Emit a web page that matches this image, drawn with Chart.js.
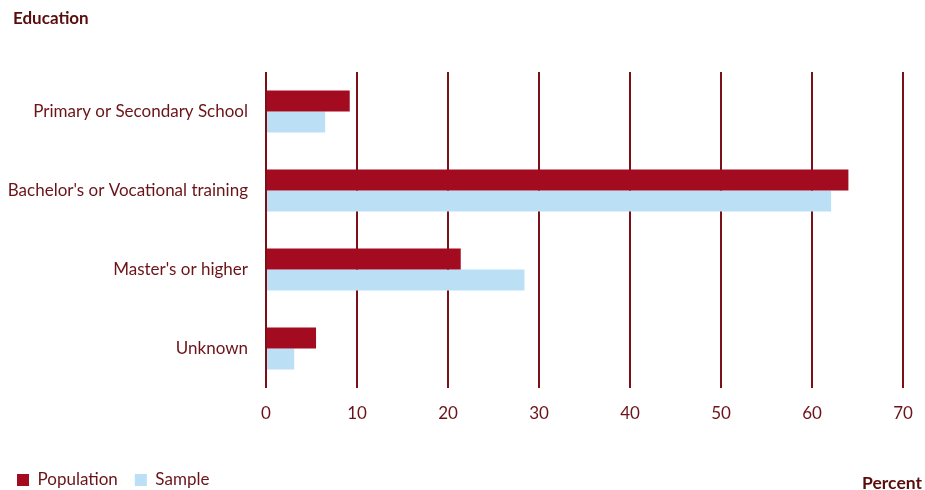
<!DOCTYPE html>
<html>
<head>
<meta charset="utf-8">
<script src="https://cdn.jsdelivr.net/npm/chart.js@4.4.0/dist/chart.umd.min.js"></script>
<style>
html,body{margin:0;padding:0;background:#fff;}
#wrap{width:925px;height:490px;position:relative;}
</style>
</head>
<body>
<div id="wrap"><canvas id="c" width="925" height="490"></canvas></div>
<script>
const categories = ["Primary or Secondary School", "Bachelor's or Vocational training", "Master's or higher", "Unknown"];
const population = [9.2, 64.0, 21.4, 5.5];
const sample = [6.5, 62.1, 28.4, 3.1];
const xTicks = [0, 10, 20, 30, 40, 50, 60, 70];
const yTitle = "Education";
const xTitle = "Percent";

const FONT = "Lato, 'Open Sans', sans-serif";
const TXT = '#6b1318';
const BOLD = '#5a0d0d';

const textPlugin = {
  id: 'texts',
  afterDraw(chart) {
    const ctx = chart.ctx;
    ctx.save();
    ctx.font = "bold 17px " + FONT;
    ctx.fillStyle = BOLD;
    ctx.textBaseline = 'middle';
    ctx.textAlign = 'left';
    ctx.fillText(yTitle, 13, 19);
    ctx.font = "bold 17.5px " + FONT;
    ctx.textAlign = 'right';
    ctx.fillText(xTitle, chart.width - 3, 483);
    ctx.restore();
  }
};

new Chart(document.getElementById('c'), {
  type: 'bar',
  data: {
    labels: categories,
    datasets: [
      { label: 'Population', data: population, backgroundColor: '#a30b20', borderWidth: 0 },
      { label: 'Sample', data: sample, backgroundColor: '#bbdff5', borderWidth: 0 }
    ]
  },
  options: {
    indexAxis: 'y',
    responsive: false,
    animation: false,
    devicePixelRatio: 1,
    barPercentage: 1,
    categoryPercentage: 0.532,
    layout: { padding: { left: 0, right: 22, top: 72, bottom: -8.5 } },
    plugins: {
      legend: {
        position: 'bottom',
        align: 'start',
        labels: {
          boxWidth: 12, boxHeight: 12, padding: 17,
          color: TXT, font: { family: FONT, size: 17 }
        }
      },
      tooltip: { enabled: false },
      title: { display: false }
    },
    scales: {
      x: {
        min: 0, max: 70,
        afterBuildTicks(scale) { scale.ticks = xTicks.map(v => ({ value: v })); },
        afterFit(scale) { scale.height = 66.5; scale.paddingRight = 0; scale.paddingLeft = 0; },
        grid: { color: '#7b1017', lineWidth: 2, drawTicks: false },
        border: { display: false },
        ticks: { color: TXT, font: { family: FONT, size: 17 }, padding: 15 }
      },
      y: {
        afterFit(scale) { scale.width = 266; },
        grid: { display: false },
        border: { display: false },
        ticks: { color: TXT, font: { family: FONT, size: 17 }, padding: 10 }
      }
    }
  },
  plugins: [textPlugin]
});
</script>
</body>
</html>
